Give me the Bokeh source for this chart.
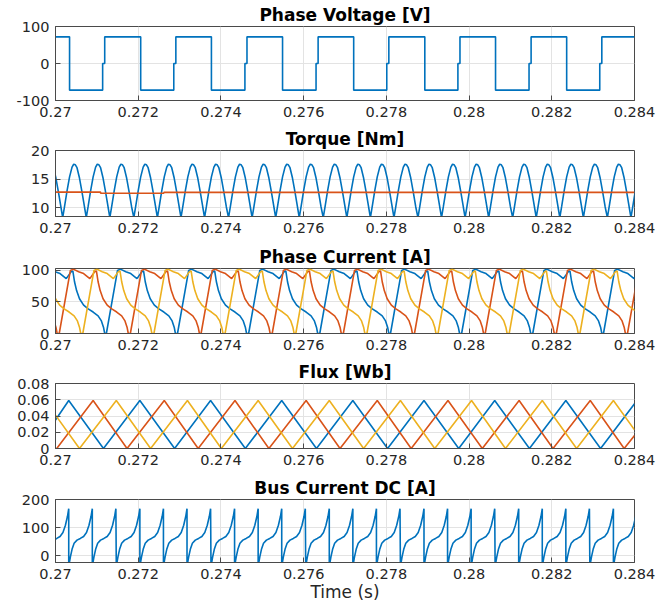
from bokeh.plotting import figure
from bokeh.layouts import column
from bokeh.models import Range1d, FixedTicker
from bokeh.embed import file_html
from bokeh.resources import INLINE

T0 = 0.27  # s, left end of the time window; all *_ms arrays are ms after T0

x_ticks = [0.27, 0.272, 0.274, 0.276, 0.278, 0.28, 0.282, 0.284]
x_tick_labels = ["0.27", "0.272", "0.274", "0.276", "0.278", "0.28", "0.282", "0.284"]

# ---------------- Phase voltage (step levels) ----------------
volt_t_ms = [0.00, 0.34, 1.14, 1.19, 2.06, 2.86, 2.91, 3.77, 4.58, 4.63,
             5.49, 6.30, 6.35, 7.21, 8.01, 8.06, 8.93, 9.73, 9.78, 10.64,
             11.45, 11.50, 12.36, 13.16, 13.21, 14.00]
volt_V = [72, -72, 0, 72, -72, 0, 72, -72, 0, 72,
          -72, 0, 72, -72, 0, 72, -72, 0, 72, -72,
          0, 72, -72, 0, 72, 72]

# ---------------- Torque ----------------
torque_peak_ms = [-0.11, 0.46, 1.03, 1.60, 2.18, 2.75, 3.32, 3.89, 4.47, 5.04,
                  5.61, 6.18, 6.76, 7.33, 7.90, 8.47, 9.05, 9.62, 10.19, 10.76,
                  11.34, 11.91, 12.48, 13.05, 13.63, 14.20]
torque_cycle_ms = [-0.286, -0.24, -0.18, -0.12, -0.06, -0.02, 0.02, 0.06, 0.12, 0.18, 0.24]
torque_cycle_Nm = [8.3, 10.3, 13.0, 15.4, 17.1, 17.6, 17.5, 17.0, 15.2, 12.8, 10.2]
torque_ref_ms = [0.00, 1.09, 1.09, 2.62, 2.62, 14.00]
torque_ref_Nm = [12.75, 12.75, 12.55, 12.55, 12.70, 12.70]

# ---------------- Phase currents ----------------
cur_cycle_ms = [0.09, 0.36, 0.43, 0.56, 0.68, 0.83, 0.95, 0.99, 1.03, 1.08,
                1.15, 1.25, 1.36, 1.48, 1.60, 1.68, 1.73, 1.76]
cur_cycle_A = [0, 100, 102, 98, 95, 87, 98, 99, 82, 68,
               55, 45, 39, 34, 28, 20, 10, 0]
cur_blue_start_ms = [-2.29, -0.57, 1.14, 2.86, 4.58, 6.30, 8.01, 9.73, 11.45, 13.16]
cur_red_start_ms = [-1.72, 0.00, 1.72, 3.43, 5.15, 6.87, 8.59, 10.30, 12.02, 13.74]
cur_yel_start_ms = [-1.15, 0.57, 2.29, 4.01, 5.72, 7.44, 9.16, 10.88, 12.59]

# ---------------- Flux ----------------
flux_blue_ms = [0, 0.32, 1.16, 2.04, 2.88, 3.75, 4.59, 5.47, 6.31, 7.19, 8.03,
                8.91, 9.75, 10.62, 11.46, 12.34, 13.18, 14.0]
flux_blue_Wb = [0.035, 0.059, 0, 0.059, 0, 0.059, 0, 0.059, 0, 0.059, 0,
                0.059, 0, 0.059, 0, 0.059, 0, 0.055]
flux_red_ms = [0, 0.03, 0.91, 1.73, 2.63, 3.45, 4.34, 5.16, 6.06, 6.88, 7.78,
               8.60, 9.49, 10.32, 11.21, 12.03, 12.93, 13.75, 14.0]
flux_red_Wb = [0, 0, 0.059, 0, 0.059, 0, 0.059, 0, 0.059, 0, 0.059,
               0, 0.059, 0, 0.059, 0, 0.059, 0, 0.016]
flux_yel_ms = [0, 0.58, 1.47, 2.30, 3.19, 4.01, 4.90, 5.73, 6.62, 7.45, 8.34,
               9.17, 10.06, 10.88, 11.77, 12.60, 13.49, 14.0]
flux_yel_Wb = [0.041, 0, 0.059, 0, 0.059, 0, 0.059, 0, 0.059, 0, 0.059,
               0, 0.059, 0, 0.059, 0, 0.059, 0.023]

# ---------------- Bus current ----------------
bus_drop_ms = [-0.25, 0.32, 0.89, 1.47, 2.04, 2.61, 3.18, 3.76, 4.33, 4.90,
               5.47, 6.05, 6.62, 7.19, 7.76, 8.34, 8.91, 9.48, 10.05, 10.63,
               11.20, 11.77, 12.34, 12.92, 13.49, 14.06]
bus_cycle_ms = [0.0, 0.02, 0.04, 0.08, 0.13, 0.20, 0.28, 0.36, 0.43, 0.49, 0.54, 0.57]
bus_cycle_A = [-40, -22, -5, 22, 44, 55, 61, 68, 82, 108, 140, 167]

BLUE = "#0072BD"
ORANGE = "#D95319"
YELLOW = "#EDB120"
FONT = "DejaVu Sans"
AXC = "#4a4a4a"


def to_s(ms_list):
    return [T0 + m / 1000.0 for m in ms_list]


def place_cycles(starts, offs, vals):
    xs, ys = [], []
    for s in starts:
        for o, v in zip(offs, vals):
            xs.append(T0 + (s + o) / 1000.0)
            ys.append(v)
    return xs, ys


def style_axis(ax):
    ax.major_tick_in = 5
    ax.major_tick_out = 0
    ax.minor_tick_line_color = None
    ax.axis_line_color = AXC
    ax.major_tick_line_color = AXC
    ax.major_label_text_font = FONT
    ax.major_label_text_color = "#262626"
    ax.major_label_text_font_size = "14.5px"


def make_fig(title, y0, y1, yticks, ylabels, height, bottom, xlabel=None):
    p = figure(width=672, height=height, x_range=Range1d(0.27, 0.284),
               y_range=Range1d(y0, y1), output_backend="svg", toolbar_location=None,
               min_border_left=55, min_border_right=38, min_border_top=20,
               min_border_bottom=bottom, background_fill_color="white",
               border_fill_color="white")
    p.title.text = title
    p.title.align = "center"
    p.title.text_font = FONT
    p.title.text_font_style = "bold"
    p.title.text_font_size = "17px"
    p.title.text_color = "#000000"
    p.title.standoff = 4
    p.outline_line_color = AXC
    p.outline_line_width = 1
    p.outline_line_alpha = 1
    xa = p.xaxis[0]
    ya = p.yaxis[0]
    xa.ticker = FixedTicker(ticks=x_ticks)
    xa.major_label_overrides = dict(zip(x_ticks, x_tick_labels))
    ya.ticker = FixedTicker(ticks=yticks)
    ya.major_label_overrides = dict(zip(yticks, ylabels))
    style_axis(xa)
    style_axis(ya)
    ya.major_label_standoff = 6
    xa.major_label_standoff = 6
    if xlabel:
        xa.axis_label = xlabel
        xa.axis_label_text_font = FONT
        xa.axis_label_text_font_size = "17px"
        xa.axis_label_text_font_style = "normal"
        xa.axis_label_text_color = "#262626"
        xa.axis_label_standoff = 0
    p.xgrid.grid_line_color = "#e3e3e3"
    p.ygrid.grid_line_color = "#e3e3e3"
    return p


LW = 1.6

p1 = make_fig("Phase Voltage [V]", -100, 100, [-100, 0, 100], ["-100", "0", "100"], 124, 24)
p1.step(to_s(volt_t_ms), volt_V, mode="after", line_color=BLUE, line_width=LW)

p2 = make_fig("Torque [Nm]", 8.5, 20, [10, 15, 20], ["10", "15", "20"], 118, 26)
tx, ty = place_cycles(torque_peak_ms, torque_cycle_ms, torque_cycle_Nm)
p2.line(tx, ty, line_color=BLUE, line_width=LW)
p2.line(to_s(torque_ref_ms), torque_ref_Nm, line_color=ORANGE, line_width=LW)

p3 = make_fig("Phase Current [A]", 0, 103, [0, 50, 100], ["0", "50", "100"], 115, 24)
for starts, col in ((cur_blue_start_ms, BLUE), (cur_red_start_ms, ORANGE), (cur_yel_start_ms, YELLOW)):
    cx, cy = place_cycles(starts, cur_cycle_ms, cur_cycle_A)
    p3.line(cx, cy, line_color=col, line_width=LW)

p4 = make_fig("Flux [Wb]", 0, 0.08, [0, 0.02, 0.04, 0.06, 0.08],
              ["0", "0.02", "0.04", "0.06", "0.08"], 116, 25)
p4.line(to_s(flux_blue_ms), flux_blue_Wb, line_color=BLUE, line_width=LW)
p4.line(to_s(flux_red_ms), flux_red_Wb, line_color=ORANGE, line_width=LW)
p4.line(to_s(flux_yel_ms), flux_yel_Wb, line_color=YELLOW, line_width=LW)

p5 = make_fig("Bus Current DC [A]", -25, 200, [0, 100, 200], ["0", "100", "200"], 131, 41,
              xlabel="Time (s)")
bx, by = place_cycles(bus_drop_ms, bus_cycle_ms, bus_cycle_A)
p5.line(bx, by, line_color=BLUE, line_width=LW)

layout = column(p1, p2, p3, p4, p5, spacing=0)
open("out.html", "w").write(file_html(layout, INLINE))
